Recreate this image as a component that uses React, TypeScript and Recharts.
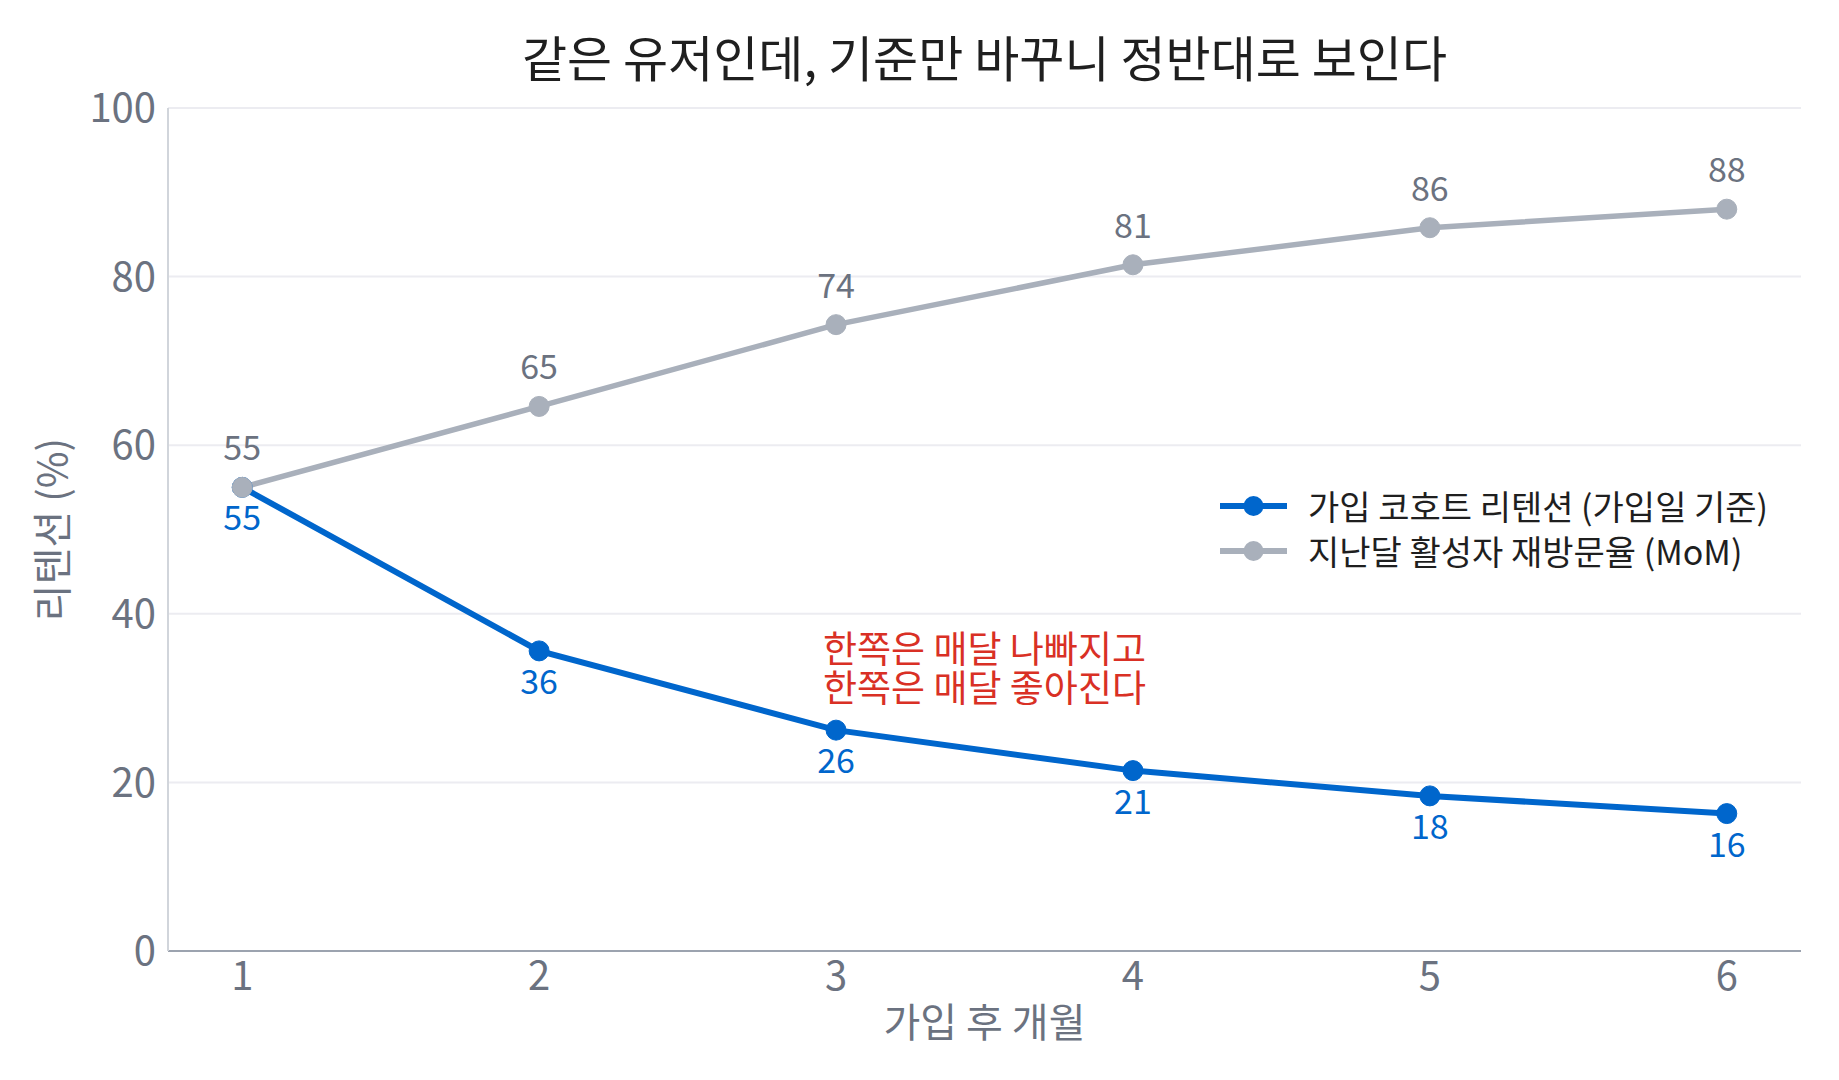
import {
  LineChart,
  Line,
  XAxis,
  YAxis,
  CartesianGrid,
  LabelList,
  Legend,
  ReferenceDot,
} from "recharts";

const MONTHS = [1, 2, 3, 4, 5, 6];
const COHORT_RETENTION = [55, 35.6, 26.2, 21.4, 18.4, 16.3];
const MOM_RETURN = [55, 64.6, 74.3, 81.4, 85.8, 88.0];
const Y_TICKS = [0, 20, 40, 60, 80, 100];
const NOTE_LINES = ["한쪽은 매달 나빠지고", "한쪽은 매달 좋아진다"];

const SERIES_NAMES = {
  cohort: "가입 코호트 리텐션 (가입일 기준)",
  mom: "지난달 활성자 재방문율 (MoM)",
};

const BLUE = "#0066cc";
const GRAY = "#a9b0bb";
const TEXT_GRAY = "#6b7280";
const RED = "#d93025";
const FONT = "'Noto Sans CJK KR', 'Noto Sans', sans-serif";

const data = MONTHS.map((month, i) => ({
  month,
  cohort: COHORT_RETENTION[i],
  mom: MOM_RETURN[i],
}));

const W = 1839;
const H = 1080;

function LegendContent({ payload }: { payload?: { value: string; color: string }[] }) {
  if (!payload) return null;
  return (
    <div style={{ fontFamily: FONT }}>
      {payload.map((p) => (
        <div
          key={p.value}
          style={{ display: "flex", alignItems: "center", height: 45 }}
        >
          <svg width={67} height={24} style={{ marginRight: 21 }}>
            <line x1={0} y1={12} x2={67} y2={12} stroke={p.color} strokeWidth={6} />
            <circle cx={33.5} cy={12} r={10} fill={p.color} />
          </svg>
          <span style={{ fontSize: 34, color: "#1f1f1f", whiteSpace: "nowrap" }}>
            {p.value}
          </span>
        </div>
      ))}
    </div>
  );
}

// two-line note, centred on the reference point
function NoteLabel({ viewBox }: { viewBox?: { x: number; y: number } }) {
  if (!viewBox) return null;
  const { x, y } = viewBox;
  return (
    <text
      x={x}
      y={y - 19.5}
      fill={RED}
      fontSize={37}
      textAnchor="middle"
      dominantBaseline="central"
    >
      <tspan x={x}>{NOTE_LINES[0]}</tspan>
      <tspan x={x} dy={39}>
        {NOTE_LINES[1]}
      </tspan>
    </text>
  );
}

export default function App() {
  return (
    <div style={{ position: "relative", width: W, height: H, fontFamily: FONT, background: "#fff" }}>
      <style>{`body { margin: 0; }`}</style>
      <div
        style={{
          position: "absolute",
          left: 168,
          width: 1633,
          top: 31,
          textAlign: "center",
          fontSize: 49,
          lineHeight: "49px",
          color: "#1f1f1f",
        }}
      >
        같은 유저인데, 기준만 바꾸니 정반대로 보인다
      </div>
      <LineChart
        width={W}
        height={H}
        data={data}
        margin={{ top: 108, right: 38, left: 0, bottom: 0 }}
      >
        <CartesianGrid vertical={false} stroke="#ececf1" strokeWidth={2} />
        <XAxis
          dataKey="month"
          type="number"
          domain={[0.75, 6.25]}
          ticks={MONTHS}
          height={129}
          tickLine={false}
          tickMargin={5}
          axisLine={{ stroke: "#9ca3af", strokeWidth: 2 }}
          tick={{ fontSize: 40, fill: TEXT_GRAY }}
          label={{
            value: "가입 후 개월",
            position: "insideBottom",
            offset: 43,
            fontSize: 40,
            fill: TEXT_GRAY,
          }}
        />
        <YAxis
          type="number"
          domain={[0, 100]}
          ticks={Y_TICKS}
          width={168}
          tickLine={false}
          tickMargin={6}
          axisLine={{ stroke: "#d1d5db", strokeWidth: 2 }}
          tick={{ fontSize: 40, fill: TEXT_GRAY }}
          label={{
            value: "리텐션 (%)",
            angle: -90,
            position: "center",
            dx: -31,
            fontSize: 40,
            fill: TEXT_GRAY,
          }}
        />
        <Legend
          layout="vertical"
          align="center"
          verticalAlign="middle"
          wrapperStyle={{ top: 483, left: 1220, width: "auto" }}
          content={<LegendContent />}
        />
        <Line
          dataKey="cohort"
          name={SERIES_NAMES.cohort}
          type="linear"
          stroke={BLUE}
          strokeWidth={6}
          dot={{ r: 10, fill: BLUE, stroke: BLUE, strokeWidth: 1 }}
          activeDot={false}
          isAnimationActive={false}
        >
          <LabelList
            dataKey="cohort"
            position="bottom"
            offset={19}
            fontSize={34}
            fill={BLUE}
            formatter={(v: number) => Math.round(v)}
          />
        </Line>
        <Line
          dataKey="mom"
          name={SERIES_NAMES.mom}
          type="linear"
          stroke={GRAY}
          strokeWidth={5.5}
          dot={{ r: 10, fill: GRAY, stroke: GRAY, strokeWidth: 1 }}
          activeDot={false}
          isAnimationActive={false}
        >
          <LabelList
            dataKey="mom"
            position="top"
            offset={27}
            fontSize={34}
            fill={TEXT_GRAY}
            formatter={(v: number) => Math.round(v)}
          />
        </Line>
        <ReferenceDot
          x={3.5}
          y={33.8}
          r={0}
          fill="none"
          stroke="none"
          label={<NoteLabel />}
        />
      </LineChart>
    </div>
  );
}
